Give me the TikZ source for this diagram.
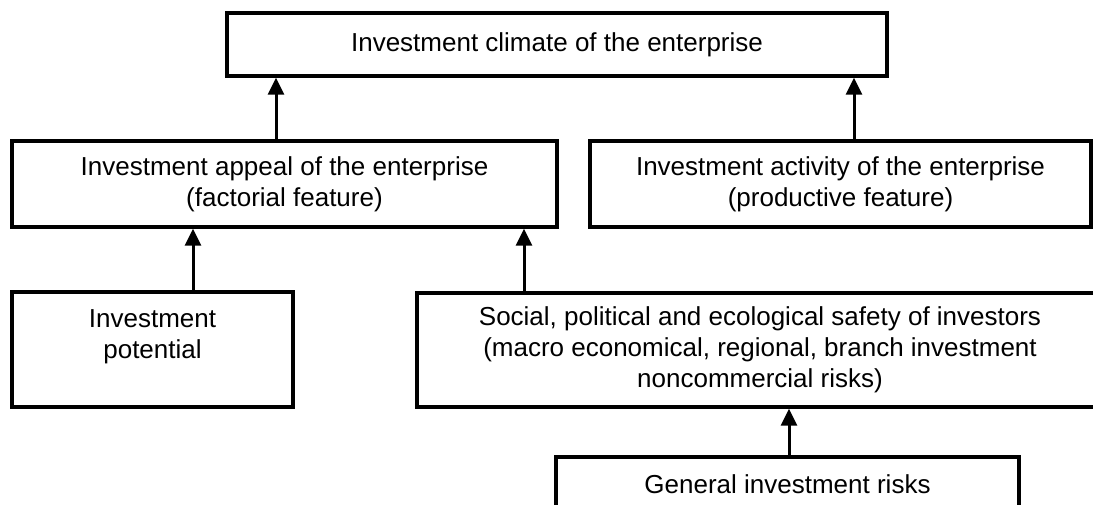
\documentclass[tikz,border=0pt]{standalone}
\usepackage{fontspec}
\setmainfont{Liberation Sans}
\usepackage{tikz}
\usetikzlibrary{calc}
\usetikzlibrary{arrows.meta}
\tikzset{
  block/.style={draw, line width=1.7pt, align=center, inner sep=0pt,
    font=\fontsize{13}{15.5}\selectfont},
  uparrow/.style={line width=1.5pt, -{Triangle[width=8pt,length=8.5pt]}}
}
\newcommand{\blocknode}[6]{\node[block, minimum width=#4*0.5pt, minimum height=#5*0.5pt] (#1) at ( #2 , #3 ) {#6};}

\begin{document}
\begin{tikzpicture}[x=0.5pt, y=-0.5pt]
    \useasboundingbox (0,0) rectangle (1093,504);
    % level1
    \blocknode{climate}{557}{44.5}{660}{63}{Investment climate of the enterprise}
    % level2
    \blocknode{appeal}{284.5}{184}{545}{86}{Investment appeal of the enterprise\\(factorial feature)}
    \blocknode{activity}{840.5}{184}{501}{86}{Investment activity of the enterprise\\(productive feature)}
    % level3
    \blocknode{potential}{152.5}{349.5}{281}{115}{Investment\\potential\\\mbox{}}
    \blocknode{social}{760}{350}{686}{114}{Social, political and ecological safety of investors\\(macro economical, regional, branch investment\\noncommercial risks)}
    % level4
    \blocknode{general}{787.5}{484.5}{463}{55}{General investment risks}

    % arrows into level1
    \coordinate (a1) at ($(appeal.north)+(-8.5,0)$);
    \coordinate (a2) at ($(activity.north)+(13.5,0)$);
    \draw[uparrow] (a1) -- (a1 |- climate.south);
    \draw[uparrow] (a2) -- (a2 |- climate.south);
    % arrows into level2
    \coordinate (a3) at ($(potential.north)+(40.5,0)$);
    \coordinate (a4) at ($(social.north)+(-236,0)$);
    \draw[uparrow] (a3) -- (a3 |- appeal.south);
    \draw[uparrow] (a4) -- (a4 |- appeal.south);
    % arrow into level3
    \coordinate (a5) at ($(general.north)+(1.5,0)$);
    \draw[uparrow] (a5) -- (a5 |- social.south);
\end{tikzpicture}
\end{document}
